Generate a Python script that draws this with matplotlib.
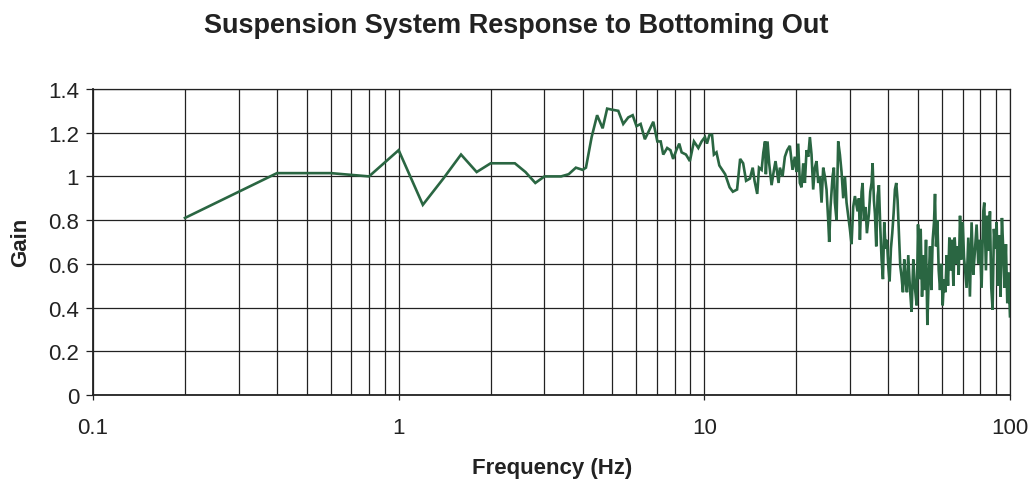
import matplotlib
matplotlib.use("Agg")
import matplotlib.pyplot as plt
from matplotlib.ticker import LogLocator, FixedLocator, NullFormatter

plt.rcParams['font.family'] = ['Liberation Sans', 'DejaVu Sans']

title = "Suspension System Response to Bottoming Out"
x_label = "Frequency (Hz)"
y_label = "Gain"
y_ticks = [0, 0.2, 0.4, 0.6, 0.8, 1.0, 1.2, 1.4]
y_tick_labels = ["0", "0.2", "0.4", "0.6", "0.8", "1", "1.2", "1.4"]
x_ticks = [0.1, 1, 10, 100]
x_tick_labels = ["0.1", "1", "10", "100"]

# Low-frequency part (Hz, gain)
freq_low = [0.2, 0.4, 0.6, 0.8, 1.0, 1.2, 1.4, 1.6, 1.8, 2.0, 2.2, 2.4, 2.6, 2.8,
            3.0, 3.2, 3.4, 3.6, 3.8, 4.0, 4.1, 4.28, 4.46, 4.65, 4.81, 5.0, 5.23,
            5.43, 5.64, 5.83, 6.0, 6.19, 6.39, 6.6, 6.81, 7.02, 7.2, 7.34, 7.56,
            7.75, 7.91, 8.1, 8.28, 8.43, 8.71, 8.97]
gain_low = [0.81, 1.015, 1.015, 1.00, 1.12, 0.87, 0.99, 1.10, 1.02, 1.06, 1.06, 1.06, 1.02, 0.97,
            1.00, 1.00, 1.00, 1.01, 1.04, 1.03, 1.04, 1.18, 1.28, 1.22, 1.31, 1.305, 1.30,
            1.24, 1.27, 1.28, 1.23, 1.24, 1.17, 1.21, 1.25, 1.16, 1.16, 1.10, 1.13,
            1.12, 1.08, 1.12, 1.15, 1.11, 1.10, 1.07]

# 9 - 17.5 Hz
freq_mid = [9.25, 9.56, 9.80, 10.05, 10.2, 10.4, 10.6, 10.75, 10.96, 11.2, 11.7, 12.1,
            12.4, 12.8, 13.1, 13.4, 13.7, 14.1, 14.4, 14.6, 14.9, 15.1, 15.4, 15.6,
            15.8, 15.9, 16.1, 16.3, 16.6, 16.9, 17.1, 17.5]
gain_mid = [1.16, 1.13, 1.16, 1.18, 1.15, 1.19, 1.19, 1.10, 1.11, 1.05, 1.01, 0.95,
            0.93, 0.94, 1.08, 1.06, 0.98, 0.99, 1.04, 0.98, 0.92, 1.04, 1.03, 1.11,
            1.16, 1.01, 1.16, 1.06, 0.96, 1.03, 1.07, 0.97]

# 17.7 - 30.7 Hz
freq_a = [17.67, 18.03, 18.35, 18.67, 19.05, 19.44, 19.78, 20.03, 20.29, 20.54, 20.80,
          21.07, 21.33, 21.60, 21.88, 22.15, 22.43, 22.71, 23.0, 23.29, 23.59, 23.88,
          24.19, 24.49, 24.80, 25.11, 25.43, 25.62, 25.88, 26.28, 26.54, 26.74, 27.08,
          27.42, 27.77, 28.12, 28.48, 28.84, 29.2, 29.57, 29.94, 30.32, 30.70]
gain_a = [1.04, 1.00, 1.09, 1.12, 1.14, 1.03, 1.09, 1.02, 1.15, 0.97, 0.95,
          1.06, 0.97, 1.12, 1.09, 1.18, 1.10, 0.94, 1.04, 1.07, 0.97, 1.00,
          0.88, 1.04, 1.00, 0.94, 0.80, 0.70, 0.86, 1.00, 1.04, 0.88, 0.80,
          1.16, 1.10, 1.02, 0.90, 1.00, 0.88, 0.82, 0.76, 0.69, 0.86]

# 31 - 49 Hz
freq_b = [31.1, 31.73, 32.05, 32.29, 32.70, 32.95, 33.28, 33.70, 34.04, 34.56, 34.91,
          35.26, 35.53, 35.89, 36.16, 36.52, 36.89, 37.26, 37.64, 38.02, 38.41, 38.79,
          39.19, 39.58, 39.98, 40.38, 40.79, 41.2, 41.62, 42.04, 42.46, 42.89, 43.33,
          43.76, 44.2, 44.65, 45.1, 45.56, 46.02, 46.48, 47.07, 47.66, 48.27, 48.88]
gain_b = [0.91, 0.84, 0.90, 0.71, 0.93, 0.97, 0.80, 0.86, 0.74, 0.83, 0.93,
          0.97, 1.06, 0.89, 0.83, 0.68, 0.91, 0.96, 0.77, 0.62, 0.53, 0.79,
          0.67, 0.71, 0.59, 0.52, 0.67, 0.74, 0.83, 0.94, 0.97, 0.89, 0.74,
          0.59, 0.54, 0.47, 0.62, 0.52, 0.47, 0.64, 0.49, 0.38, 0.62, 0.49]

# 49.5 - 71 Hz
freq_c = [49.53, 50.03, 50.53, 51.04, 51.56, 52.08, 52.6, 53.13, 53.67, 54.21, 54.76,
          55.31, 55.87, 56.43, 56.86, 57.29, 57.87, 58.46, 59.04, 59.64, 60.24, 60.85,
          61.47, 62.09, 62.71, 63.35, 63.98, 64.63, 65.29, 65.94, 66.61, 67.28, 67.96,
          68.65, 69.34, 70.04, 70.75]
gain_c = [0.41, 0.78, 0.53, 0.76, 0.45, 0.64, 0.48, 0.71, 0.32, 0.53, 0.68,
          0.48, 0.71, 0.79, 0.92, 0.68, 0.80, 0.57, 0.48, 0.60, 0.41, 0.53,
          0.47, 0.64, 0.50, 0.72, 0.57, 0.71, 0.50, 0.72, 0.60, 0.68, 0.55,
          0.82, 0.62, 0.79, 0.63]

# 72 - 100 Hz
freq_d = [72.13, 73.05, 73.96, 74.9, 75.85, 76.8, 77.78, 78.76, 79.75, 80.76, 81.79,
          82.4, 83.45, 84.29, 85.14, 86.0, 86.87, 87.74, 88.62, 89.52, 90.43, 91.34,
          92.26, 93.19, 94.13, 95.09, 96.05, 97.01, 98.0, 98.98, 100.0]
gain_d = [0.49, 0.72, 0.45, 0.79, 0.55, 0.66, 0.78, 0.60, 0.71, 0.49, 0.84,
          0.88, 0.57, 0.82, 0.66, 0.84, 0.49, 0.39, 0.76, 0.67, 0.79, 0.50,
          0.73, 0.45, 0.81, 0.66, 0.49, 0.69, 0.42, 0.56, 0.36]

freq = freq_low + freq_mid + freq_a + freq_b + freq_c + freq_d
gain = gain_low + gain_mid + gain_a + gain_b + gain_c + gain_d

fig = plt.figure(figsize=(10.33, 4.85), dpi=100)
ax = fig.add_axes([0.090, 0.1835, 0.8877, 0.631])

ax.plot(freq, gain, color='#2a6642', lw=1.9, zorder=3, solid_joinstyle='miter')

ax.set_xscale('log')
ax.set_xlim(0.1, 100)
ax.set_ylim(0, 1.4)

ax.xaxis.set_major_locator(FixedLocator(x_ticks))
ax.set_xticklabels(x_tick_labels)
ax.xaxis.set_minor_locator(LogLocator(base=10, subs=[2, 3, 4, 5, 6, 7, 8, 9]))
ax.xaxis.set_minor_formatter(NullFormatter())
ax.set_yticks(y_ticks)
ax.set_yticklabels(y_tick_labels)

ax.grid(True, which='major', axis='both', color='#222222', lw=0.9)
ax.grid(True, which='minor', axis='x', color='#222222', lw=0.9)
ax.tick_params(axis='x', which='minor', length=0)
ax.tick_params(axis='both', which='major', direction='out', width=0.9,
               labelsize=16, color='#222222', labelcolor='#222222')
ax.tick_params(axis='x', which='major', length=3.6, pad=12)
ax.tick_params(axis='y', which='major', length=5, pad=5)
for s in ax.spines.values():
    s.set_color('#222222')
    s.set_linewidth(0.9)
ax.spines['left'].set_linewidth(1.3)
ax.spines['bottom'].set_linewidth(1.3)

fig.text(0.5, 0.946, title, ha='center', va='center', fontsize=19.5,
         fontweight='bold', color='#222222')
fig.text(0.5345, 0.035, x_label, ha='center', va='center', fontsize=16,
         fontweight='bold', color='#222222')
fig.text(0.02, 0.5, y_label, ha='center', va='center', fontsize=16,
         fontweight='bold', color='#222222', rotation=90)

fig.savefig('out.png', dpi=100)
